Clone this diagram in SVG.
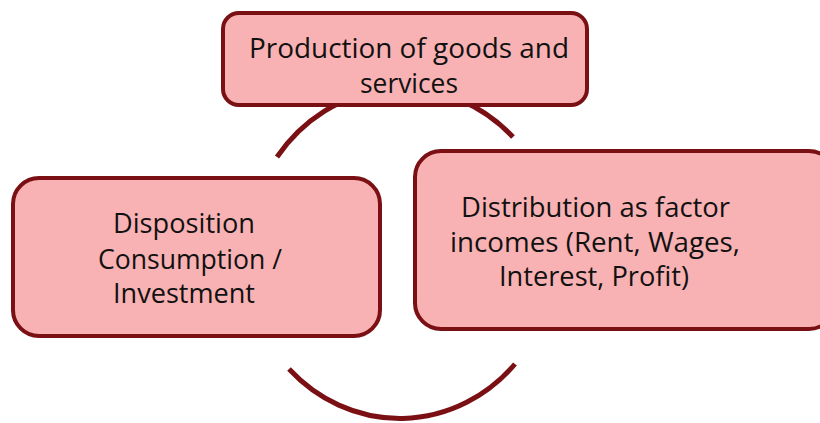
<svg xmlns="http://www.w3.org/2000/svg" width="820" height="423" viewBox="0 0 820 423">
<style>
.box{fill:#F9B2B3;stroke:#7A1014;stroke-width:4}
.arc{fill:none;stroke:#7A1014;stroke-width:5}
text{font-family:"Open Sans","Noto Sans","Liberation Sans",sans-serif;font-size:27px;fill:#111;text-anchor:middle}
</style>
<rect width="820" height="423" fill="#fff"/>
<g id="connectors">
<path class="arc" d="M277,157 A156,167 0 0 1 513,137"/>
<path class="arc" d="M289,369 A156,167 0 0 0 515,364"/>
</g>
<g id="production">
<rect class="box" x="223" y="13" width="364" height="92" rx="16"/>
<text x="409" y="58" textLength="320" lengthAdjust="spacingAndGlyphs">Production of goods and</text>
<text x="409" y="93" textLength="98" lengthAdjust="spacingAndGlyphs">services</text>
</g>
<g id="disposition">
<rect class="box" x="13" y="178" width="367" height="158" rx="26"/>
<text x="184" y="233" textLength="142" lengthAdjust="spacingAndGlyphs">Disposition</text>
<text x="190" y="269" textLength="184" lengthAdjust="spacingAndGlyphs">Consumption /</text>
<text x="184" y="303" textLength="142" lengthAdjust="spacingAndGlyphs">Investment</text>
</g>
<g id="distribution">
<rect class="box" x="415" y="151" width="420" height="178" rx="26"/>
<text x="595.5" y="217" textLength="269" lengthAdjust="spacingAndGlyphs">Distribution as factor</text>
<text x="595" y="252" textLength="290" lengthAdjust="spacingAndGlyphs">incomes (Rent, Wages,</text>
<text x="594" y="286" textLength="190" lengthAdjust="spacingAndGlyphs">Interest, Profit)</text>
</g>
</svg>
